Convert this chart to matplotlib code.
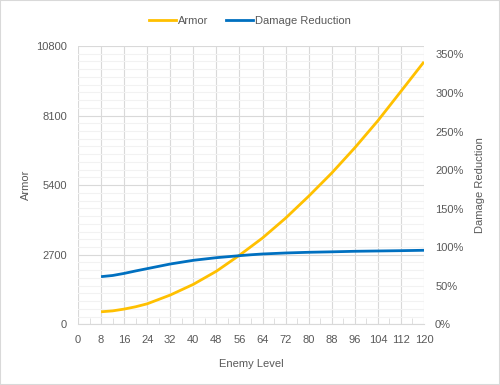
import matplotlib

matplotlib.use("Agg")

import matplotlib.pyplot as plt
from matplotlib.lines import Line2D
from matplotlib.patches import Rectangle
from matplotlib.ticker import FuncFormatter, MultipleLocator

# Values.
armor_levels = [8, 12, 16, 20, 24, 32, 40, 48, 56, 64, 72, 80, 88, 96, 104, 112, 120]
armor = [485, 520, 590, 680, 795, 1135, 1550, 2060, 2680, 3350, 4120, 4970,
         5870, 6850, 7900, 9040, 10186]

dr_levels = [8, 12, 16, 20, 24, 28, 32, 36, 40, 44, 48, 52, 56, 60, 64,
             72, 80, 88, 96, 104, 112, 120]
damage_reduction = [0.618, 0.633, 0.660, 0.692, 0.722, 0.752, 0.782, 0.806,
                    0.830, 0.847, 0.864, 0.877, 0.890, 0.902, 0.912,
                    0.925, 0.934, 0.940, 0.947, 0.951, 0.955, 0.960]

armor_ticks = [0, 2700, 5400, 8100, 10800]

YELLOW = "#FFC000"
BLUE = "#0070C0"
TEXT = "#595959"
GRID = "#D9D9D9"
MINOR_GRID = "#F2F2F2"

plt.rcParams["font.family"] = ["Liberation Sans", "DejaVu Sans"]

fig = plt.figure(figsize=(5.0, 3.85), dpi=100)
ax = fig.add_axes([0.156, 0.1577, 0.692, 0.7228])
ax2 = ax.twinx()

ax.plot(armor_levels, armor, color=YELLOW, lw=2.0, solid_capstyle="butt", zorder=3)
ax2.plot(dr_levels, damage_reduction, color=BLUE, lw=2.0, solid_capstyle="butt", zorder=3)

ax.set_xlim(0, 120)
ax.set_ylim(0, 10800)
ax2.set_ylim(0, 3.61)

ax.xaxis.set_major_locator(MultipleLocator(8))
ax.xaxis.set_minor_locator(MultipleLocator(4))
ax.set_yticks(armor_ticks)
ax.yaxis.set_minor_locator(MultipleLocator(300))
ax2.yaxis.set_major_locator(MultipleLocator(0.5))
ax2.yaxis.set_major_formatter(FuncFormatter(lambda v, _: f"{v * 100:.0f}%"))

ax.grid(which="minor", axis="y", color=MINOR_GRID, lw=0.8, zorder=0)
ax.grid(which="major", axis="y", color=GRID, lw=0.8, zorder=1)
ax.grid(which="major", axis="x", color=GRID, lw=0.8, zorder=1)
ax.set_axisbelow(True)

for a in (ax, ax2):
    for s in a.spines.values():
        s.set_visible(False)
ax.spines["bottom"].set_visible(True)
ax.spines["bottom"].set_color(GRID)

ax.tick_params(axis="x", which="major", length=0, pad=7.5, labelsize=8, labelcolor=TEXT)
ax.tick_params(axis="x", which="minor", direction="in", length=4, color=GRID)
ax.tick_params(axis="y", which="both", length=0, pad=8, labelsize=8, labelcolor=TEXT)
ax2.tick_params(axis="y", length=0, pad=8, labelsize=8, labelcolor=TEXT)

ax.set_xlabel("Enemy Level", fontsize=8, color=TEXT, labelpad=10.5)
ax.set_ylabel("Armor", fontsize=8, color=TEXT, labelpad=3.5)
ax2.set_ylabel("Damage Reduction", fontsize=8, color=TEXT, labelpad=8)

handles = [Line2D([], [], color=YELLOW, lw=2.0),
           Line2D([], [], color=BLUE, lw=2.0)]
fig.legend(handles, ["Armor", "Damage Reduction"], loc="center",
           bbox_to_anchor=(0.5, 0.946), ncol=2, frameon=False, fontsize=8,
           labelcolor=TEXT, handlelength=2.4, handletextpad=0.2, columnspacing=1.6)

fig.patches.append(Rectangle((0, 0), 1, 1, transform=fig.transFigure, fill=False,
                             edgecolor=GRID, lw=1.5))

fig.savefig("out.png", dpi=100)
